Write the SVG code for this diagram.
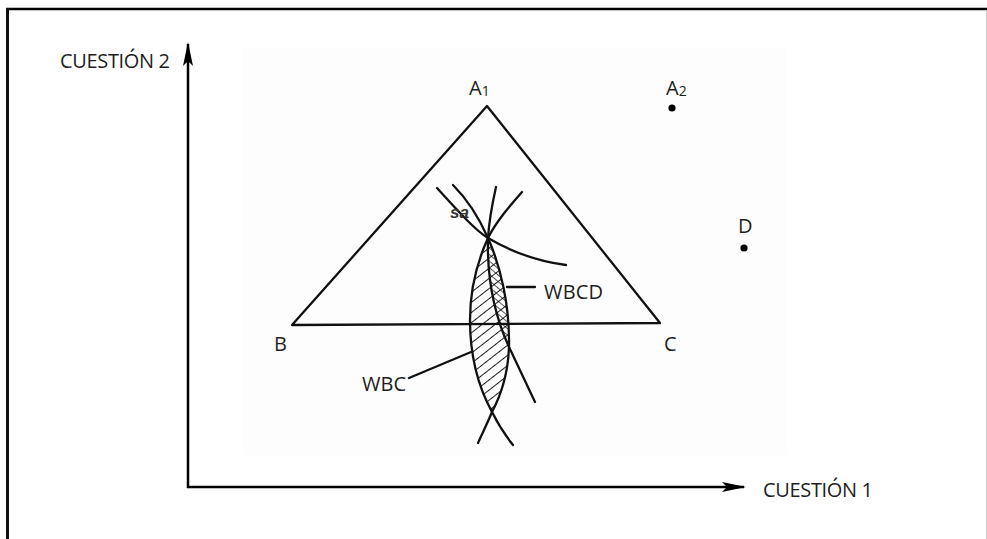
<svg xmlns="http://www.w3.org/2000/svg" width="987" height="539" viewBox="0 0 987 539">
  <style>
    .lbl { font-family: "Open Sans", "Liberation Sans", sans-serif; font-size: 20px; fill: #1e1e1e; }
    .sub { font-size: 14px; }
    .ln { fill: none; stroke: #111; stroke-width: 2.3; stroke-linecap: round; stroke-linejoin: round; }
    .ax { fill: none; stroke: #000; stroke-width: 2.5; }
  </style>
  <defs>
    <marker id="arr" markerWidth="24" markerHeight="12" refX="22" refY="6" orient="auto" markerUnits="userSpaceOnUse">
      <path d="M0,1 L24,6 L0,11 L5,6 Z" fill="#000"/>
    </marker>
    <pattern id="hatch" width="8" height="8" patternUnits="userSpaceOnUse" patternTransform="rotate(-38)">
      <line x1="0" y1="0" x2="8" y2="0" stroke="#111" stroke-width="1.9"/>
    </pattern>
    <pattern id="cross" width="5" height="5" patternUnits="userSpaceOnUse" patternTransform="rotate(40)">
      <line x1="0" y1="0" x2="5" y2="0" stroke="#111" stroke-width="1.4"/>
    </pattern>
  </defs>

  <rect width="987" height="539" fill="#fff"/>
  <g id="frame">
    <line x1="6" y1="9" x2="987" y2="9" stroke="#000" stroke-width="2.5"/>
    <line x1="7.5" y1="8" x2="7.5" y2="539" stroke="#111" stroke-width="3"/>
    <line x1="986.5" y1="10" x2="986.5" y2="539" stroke="#cfcfcf" stroke-width="1"/>
  </g>

  <rect id="scan" x="243" y="47" width="544" height="408" fill="#fdfdfd"/>

  <g id="connectors">
    <line class="ax" x1="188" y1="488" x2="188" y2="44" marker-end="url(#arr)"/>
    <line class="ax" x1="187" y1="487" x2="744" y2="487" marker-end="url(#arr)"/>
    <line class="ln" x1="507" y1="287" x2="535" y2="287" stroke-width="2"/>
    <line class="ln" x1="471" y1="352" x2="409" y2="378" stroke-width="2"/>
  </g>

  <g id="axis-y-label"><text class="lbl" x="60" y="68" textLength="110">CUESTIÓN 2</text></g>
  <g id="axis-x-label"><text class="lbl" x="763" y="497" textLength="110">CUESTIÓN 1</text></g>

  <g id="triangle">
    <path class="ln" d="M292,325 L487,106 L660,323 Z"/>
  </g>

  <g id="node-A1"><text class="lbl" x="469" y="95">A<tspan class="sub" dy="1">1</tspan></text></g>
  <g id="node-A2">
    <text class="lbl" x="666" y="95">A<tspan class="sub" dy="1">2</tspan></text>
    <circle cx="672" cy="108" r="3.6" fill="#000"/>
  </g>
  <g id="node-D">
    <text class="lbl" x="738" y="233">D</text>
    <circle cx="744" cy="248" r="3.6" fill="#000"/>
  </g>
  <g id="node-B"><text class="lbl" x="274" y="351">B</text></g>
  <g id="node-C"><text class="lbl" x="664" y="351">C</text></g>

  <g id="region-WBC">
    <path d="M488,238 C500,265 510,305 509,347 C508,375 500,397 492,412 C480,390 470,360 470,320 C470,290 478,260 488,238 Z" fill="url(#hatch)"/>
  </g>
  <g id="region-WBCD">
    <path d="M488,238 C500,265 510,305 509,347 C492,310 487,275 488,238 Z" fill="url(#cross)"/>
  </g>

  <g id="curves">
    <path id="curve-sa" class="ln" d="M437,188 C460,213 475,230 488,238 C510,251 535,261 566,265"/>
    <path id="curve-R" class="ln" d="M453,185 C468,200 480,220 488,238 C500,265 510,305 509,347 C508,375 500,397 492,412 C487,424 482,434 478,443"/>
    <path id="curve-L" class="ln" d="M522,192 C508,208 496,222 488,238 C478,260 470,290 470,320 C470,360 480,390 492,412 C498,424 505,435 513,445"/>
    <path id="curve-M" class="ln" d="M496,187 C492,205 489,222 488,238 C487,275 492,310 509,347 C518,366 527,385 535,402"/>
  </g>

  <g id="label-sa"><text x="450" y="218" font-family="'Liberation Sans', sans-serif" font-size="17" font-style="italic" font-weight="bold" fill="#333">sa</text></g>
  <g id="label-WBCD"><text class="lbl" x="544" y="299" textLength="59">WBCD</text></g>
  <g id="label-WBC"><text class="lbl" x="362" y="391" textLength="44">WBC</text></g>
</svg>
